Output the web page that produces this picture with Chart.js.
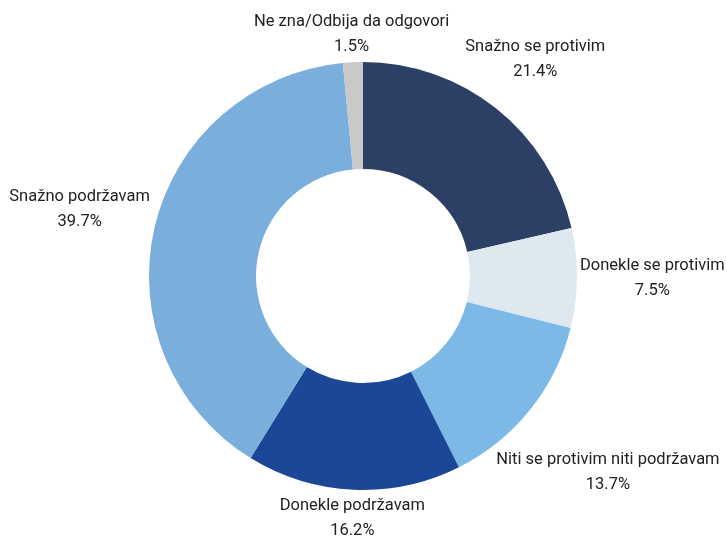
<!DOCTYPE html>
<html>
<head>
<meta charset="utf-8">
<script src="https://cdn.jsdelivr.net/npm/chart.js@4"></script>
<style>
  html, body { margin: 0; padding: 0; background: #fff; }
  #wrap { width: 727px; height: 538px; }
</style>
</head>
<body>
<div id="wrap"><canvas id="donut"></canvas></div>
<script>
const categories = [
    'Snažno se protivim',
    'Donekle se protivim',
    'Niti se protivim niti podržavam',
    'Donekle podržavam',
    'Snažno podržavam',
    'Ne zna/Odbija da odgovori'
];
const shares = [21.4, 7.5, 13.7, 16.2, 39.7, 1.5];
const sliceColors = ['#2c4066', '#dde9ef', '#7db9e7', '#1c4797', '#7aaedd', '#c9c9c9'];

const labelFont = '16.5px Roboto, "Liberation Sans", sans-serif';

// labels sit outside the ring, along each slice's middle angle
const outsideLabels = {
    id: 'outsideLabels',
    afterDraw(chart) {
        const ctx = chart.ctx;
        const arcs = chart.getDatasetMeta(0).data;
        ctx.save();
        ctx.font = labelFont;
        ctx.fillStyle = '#222';
        ctx.textAlign = 'center';
        ctx.textBaseline = 'middle';
        const lineH = 25, gap = 3;
        arcs.forEach((arc, i) => {
            const lines = [categories[i], shares[i].toFixed(1) + '%'];
            const w = Math.max(...lines.map(t => ctx.measureText(t).width));
            const h = lineH * lines.length;
            const mid = (arc.startAngle + arc.endAngle) / 2;
            const ux = Math.cos(mid), uy = Math.sin(mid);
            const target = arc.outerRadius + gap;
            let lo = 0, hi = 1000;
            for (let k = 0; k < 40; k++) {
                const d = (lo + hi) / 2;
                const dx = Math.max(Math.abs(d * ux) - w / 2, 0);
                const dy = Math.max(Math.abs(d * uy) - h / 2, 0);
                if (Math.hypot(dx, dy) < target) lo = d; else hi = d;
            }
            const cx = arc.x + lo * ux, cy = arc.y + lo * uy;
            lines.forEach((t, j) => {
                ctx.fillText(t, cx, cy - h / 2 + lineH / 2 + j * lineH);
            });
        });
        ctx.restore();
    }
};

new Chart(document.getElementById('donut').getContext('2d'), {
    type: 'doughnut',
    data: {
        labels: categories,
        datasets: [{
            data: shares,
            backgroundColor: sliceColors,
            borderWidth: 0,
            hoverOffset: 0
        }]
    },
    options: {
        responsive: true,
        maintainAspectRatio: false,
        animation: false,
        cutout: '50%',
        layout: { padding: { top: 62, bottom: 48, left: 149, right: 150 } },
        plugins: {
            legend: { display: false },
            tooltip: { enabled: false }
        }
    },
    plugins: [outsideLabels]
});
</script>
</body>
</html>
